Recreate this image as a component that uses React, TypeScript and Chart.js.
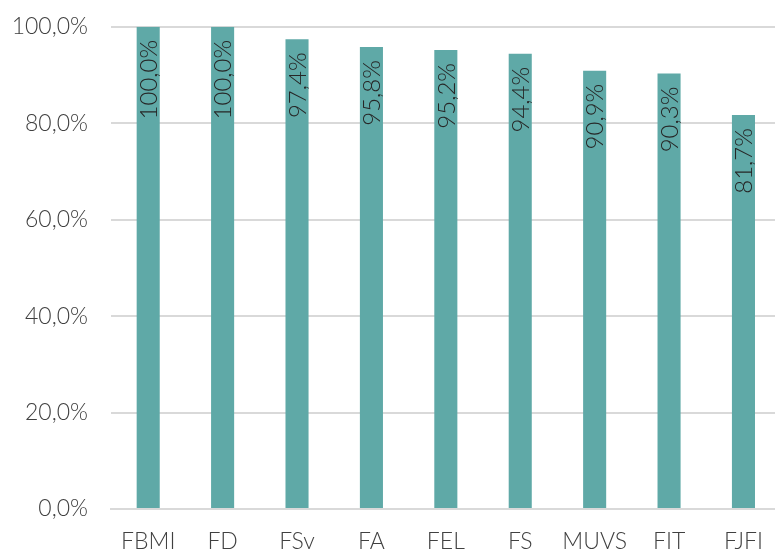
import React, { useEffect, useRef } from "react";
import { Chart, registerables } from "chart.js";

Chart.register(...registerables);

const categories = ["FBMI", "FD", "FSv", "FA", "FEL", "FS", "MUVS", "FIT", "FJFI"];
const values = [100.0, 100.0, 97.4, 95.8, 95.2, 94.4, 90.9, 90.3, 81.7];
const yTicks = [0, 20, 40, 60, 80, 100];

const FONT = "Lato";
const fmt = (v: number) => v.toFixed(1).replace(".", ",") + "%";

const valueLabels = {
  id: "valueLabels",
  afterDatasetsDraw(chart: any) {
    const ctx = chart.ctx;
    const meta = chart.getDatasetMeta(0);
    ctx.save();
    ctx.fillStyle = "#262626";
    ctx.font = `300 24px ${FONT}`;
    meta.data.forEach((bar: any, i: number) => {
      ctx.save();
      ctx.translate(bar.x + 1, bar.y + 13);
      ctx.rotate(-Math.PI / 2);
      ctx.textAlign = "right";
      ctx.textBaseline = "middle";
      ctx.fillText(fmt(values[i]), 0, 0);
      ctx.restore();
    });
    ctx.restore();
  },
};

export default function App() {
  const ref = useRef<HTMLCanvasElement>(null);
  useEffect(() => {
    if (!ref.current) return;
    const chart = new Chart(ref.current, {
      type: "bar",
      data: {
        labels: categories,
        datasets: [
          {
            data: values,
            backgroundColor: "#5fa9a7",
            categoryPercentage: 1,
            barPercentage: 0.31,
          },
        ],
      },
      options: {
        animation: false,
        responsive: false,
        maintainAspectRatio: false,
        layout: { padding: { top: 8, right: 0, bottom: 0, left: 0 } },
        plugins: { legend: { display: false }, tooltip: { enabled: false } },
        scales: {
          x: {
            grid: { display: false, drawTicks: false },
            border: { display: true, color: "#d9d9d9", width: 2 },
            ticks: {
              color: "#404040",
              font: { family: FONT, size: 23, weight: "300" as any, lineHeight: 1 },
              padding: 21,
              maxRotation: 0,
            },
          },
          y: {
            min: 0,
            max: 100,
            afterBuildTicks: (axis: any) => {
              axis.ticks = yTicks.map((v) => ({ value: v }));
            },
            afterFit: (axis: any) => {
              axis.width = 111;
            },
            grid: { color: "#d9d9d9", lineWidth: 2, drawTicks: false },
            border: { display: false },
            ticks: {
              color: "#404040",
              font: { family: FONT, size: 23, weight: "300" as any },
              padding: 23,
              callback: (v: any) => fmt(Number(v)),
            },
          },
        },
      },
      plugins: [valueLabels],
    });
    return () => chart.destroy();
  }, []);
  return (
    <div style={{ position: "fixed", left: 0, top: -10, width: 784, height: 584, background: "#fff" }}>
      <canvas ref={ref} width={784} height={584} style={{ display: "block" }} />
    </div>
  );
}
